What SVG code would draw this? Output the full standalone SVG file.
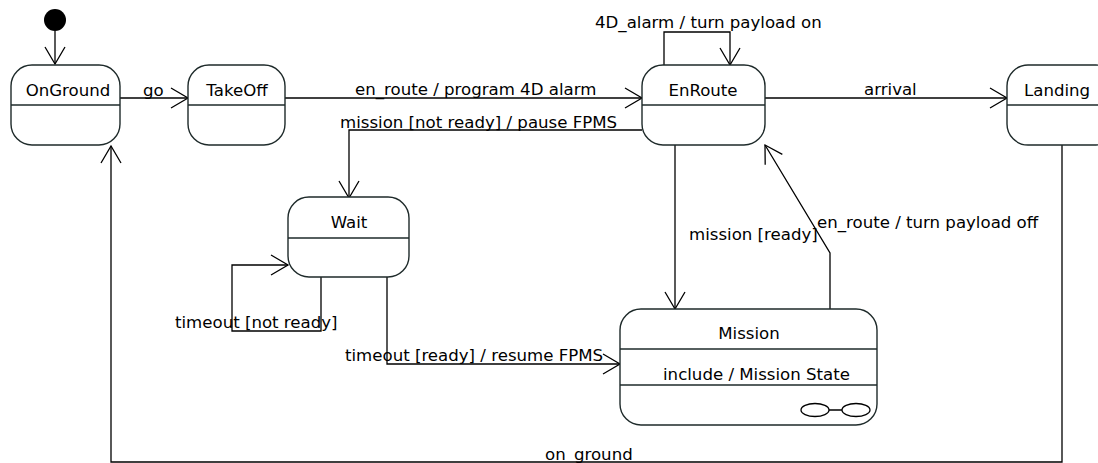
<svg xmlns="http://www.w3.org/2000/svg" width="1098" height="463" viewBox="0 0 1098 463">
<style>
.st{fill:#fff;stroke:#1e2a2a;stroke-width:1.4}
.dv{stroke:#1e2a2a;stroke-width:1.4}
.c{fill:none;stroke:#000;stroke-width:1.3}
text{font-family:"DejaVu Sans",sans-serif;font-size:16.6px;fill:#000}
.m{text-anchor:middle}
</style>
<defs>
<marker id="a" markerUnits="userSpaceOnUse" markerWidth="20" markerHeight="22" refX="17" refY="10" orient="auto" overflow="visible">
<path d="M0,0 L17,10 L0,20" fill="none" stroke="#000" stroke-width="1.3"/>
</marker>
</defs>
<g id="connectors">
<line class="c" x1="55" y1="31" x2="55" y2="64" marker-end="url(#a)"/>
<line class="c" x1="120" y1="98" x2="188" y2="98" marker-end="url(#a)"/>
<text x="143" y="96">go</text>
<line class="c" x1="285" y1="98" x2="642" y2="98" marker-end="url(#a)"/>
<text x="355" y="95">en_route / program 4D alarm</text>
<polyline class="c" points="664,65 664,32 730,32 730,65" marker-end="url(#a)"/>
<text x="595" y="28">4D_alarm / turn payload on</text>
<line class="c" x1="765" y1="98" x2="1007" y2="98" marker-end="url(#a)"/>
<text x="864" y="95">arrival</text>
<polyline class="c" points="642,130 349,130 349,198" marker-end="url(#a)"/>
<text x="340" y="128">mission [not ready] / pause FPMS</text>
<polyline class="c" points="321,277 321,331 232,331 232,265 288,265" marker-end="url(#a)"/>
<text x="175" y="328">timeout [not ready]</text>
<polyline class="c" points="387,277 387,364 620,364" marker-end="url(#a)"/>
<text x="345" y="361">timeout [ready] / resume FPMS</text>
<line class="c" x1="675" y1="145" x2="675" y2="309" marker-end="url(#a)"/>
<text x="689" y="240">mission [ready]</text>
<polyline class="c" points="830,309 830,253 765,145" marker-end="url(#a)"/>
<text x="817" y="228">en_route / turn payload off</text>
<polyline class="c" points="1062,145 1062,462 111,462 111,146" marker-end="url(#a)"/>
<text x="545" y="460">on_ground</text>
</g>
<g id="initial"><circle cx="55" cy="20" r="11" fill="#000"/></g>
<g id="OnGround">
<rect class="st" x="11" y="65" width="109" height="80" rx="21"/>
<line class="dv" x1="11" y1="105" x2="120" y2="105"/>
<text class="m" x="68" y="96">OnGround</text>
</g>
<g id="TakeOff">
<rect class="st" x="188" y="65" width="97" height="80" rx="21"/>
<line class="dv" x1="188" y1="105" x2="285" y2="105"/>
<text class="m" x="237" y="96">TakeOff</text>
</g>
<g id="EnRoute">
<rect class="st" x="642" y="65" width="123" height="80" rx="21"/>
<line class="dv" x1="642" y1="105" x2="765" y2="105"/>
<text class="m" x="703" y="96">EnRoute</text>
</g>
<g id="Landing">
<rect class="st" x="1007" y="65" width="110" height="80" rx="21"/>
<line class="dv" x1="1007" y1="105" x2="1098" y2="105"/>
<text x="1024" y="96">Landing</text>
</g>
<g id="Wait">
<rect class="st" x="288" y="197" width="121" height="80" rx="21"/>
<line class="dv" x1="288" y1="238" x2="409" y2="238"/>
<text class="m" x="349" y="228">Wait</text>
</g>
<g id="Mission">
<rect class="st" x="620" y="309" width="257" height="116" rx="21"/>
<line class="dv" x1="620" y1="349" x2="877" y2="349"/>
<line class="dv" x1="620" y1="385" x2="877" y2="385"/>
<text class="m" x="749" y="339">Mission</text>
<text x="663" y="380">include / Mission State</text>
<ellipse cx="815" cy="410" rx="14" ry="6.5" fill="none" stroke="#000" stroke-width="1.3"/>
<ellipse cx="856" cy="410" rx="14" ry="6.5" fill="none" stroke="#000" stroke-width="1.3"/>
<line x1="829" y1="410" x2="842" y2="410" stroke="#000" stroke-width="1.5"/>
</g>
</svg>
